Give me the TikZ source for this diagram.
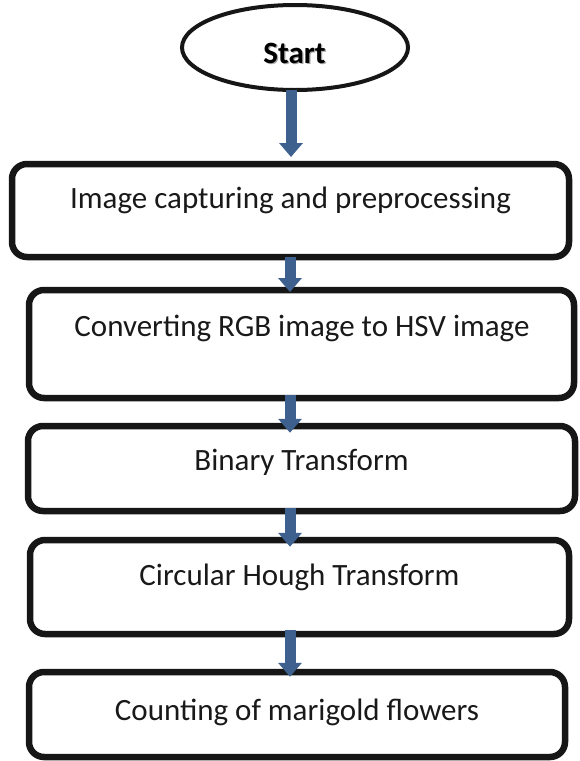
\documentclass[tikz,border=0pt]{standalone}
\usepackage{fontspec}
\setmainfont{Carlito}
\usetikzlibrary{shapes.geometric,arrows.meta}
\definecolor{arrowblue}{RGB}{62,96,142}
\definecolor{boxline}{RGB}{22,22,22}
\tikzset{
  flowbox/.style={draw=boxline, line width=6.5pt, rounded corners=15pt, rectangle, inner sep=0pt},
  startshape/.style={draw=boxline, line width=4pt, ellipse, inner sep=0pt, minimum width=226pt, minimum height=85pt},
  flowtext/.style={anchor=base, inner sep=0pt, font=\fontsize{31}{36}\selectfont, text=black!90},
  flowarrow/.style={draw=arrowblue, line width=11pt, -{Triangle[width=23pt,length=14pt]}, fill=arrowblue}
}
\begin{document}
\begin{tikzpicture}[x=1pt,y=-1pt]
\useasboundingbox (0,0) rectangle (580,761);
\node[startshape] (start) at (295,47.5) {};
\node[flowtext, font=\fontsize{31}{36}\selectfont\bfseries, text=black!35] (startshadow) at (295.8,64) {Start};
\node[flowtext, font=\fontsize{31}{36}\selectfont\bfseries, text=black] (starttext) at (294.5,63) {Start};

\node[flowbox, minimum width=557pt, minimum height=93pt] (box1) at (290.5,210.5) {};
\node[flowtext] (t1) at (290.5,208) {Image capturing and preprocessing};

\node[flowbox, minimum width=545pt, minimum height=108pt] (box2) at (301.5,344) {};
\node[flowtext] (t2) at (302,336) {Converting RGB image to HSV image};

\node[flowbox, minimum width=547pt, minimum height=85pt] (box3) at (301.5,468.5) {};
\node[flowtext] (t3) at (301.5,470) {Binary Transform};

\node[flowbox, minimum width=539pt, minimum height=94pt] (box4) at (299.5,587) {};
\node[flowtext] (t4) at (299.5,585) {Circular Hough Transform};

\node[flowbox, minimum width=536pt, minimum height=85pt] (box5) at (297,714.5) {};
\node[flowtext] (t5) at (297,720) {Counting of marigold flowers};

\coordinate (a0) at ([xshift=-4pt]start.south);
\draw[flowarrow, shorten <=-2pt, shorten >=3.75pt] (a0) -- (a0 |- box1.north);
\coordinate (a1) at (290,0);
\draw[flowarrow, shorten <=-3pt, shorten >=-5.25pt] (a1 |- box1.south) -- (a1 |- box2.north);
\draw[flowarrow, shorten <=-6pt, shorten >=-10pt] (a1 |- box2.south) -- (a1 |- box3.north);
\draw[flowarrow, shorten <=-6pt, shorten >=-10pt] (a1 |- box3.south) -- (a1 |- box4.north);
\draw[flowarrow, shorten <=-7pt, shorten >=-8pt] (a1 |- box4.south) -- (a1 |- box5.north);
\end{tikzpicture}
\end{document}
